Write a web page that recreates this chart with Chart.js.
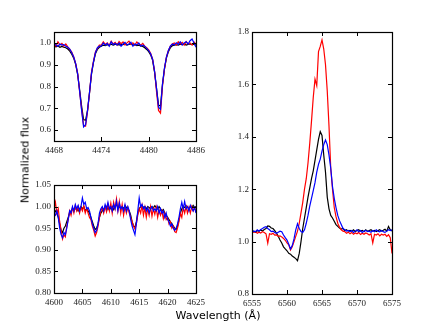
<!DOCTYPE html>
<html>
<head>
<meta charset="utf-8">
<script src="https://cdn.jsdelivr.net/npm/chart.js@4/dist/chart.umd.min.js"></script>
<style>
  html, body { margin: 0; padding: 0; background: #fff; }
  #wrap { position: relative; width: 436px; height: 327px; overflow: hidden; }
  canvas { position: absolute; left: 0; top: 0; }
  .lab { position: absolute; font-family: "DejaVu Sans", sans-serif; font-size: 11px; color: #000; white-space: nowrap; }
  #ylab { left: 25px; top: 160px; transform: translate(-50%, -50%) rotate(-90deg); }
  #xlab { left: 218px; top: 315px; transform: translate(-50%, -50%); }
</style>
</head>
<body>
<div id="wrap">
  <canvas id="cA" width="436" height="327"></canvas>
  <canvas id="cB" width="436" height="327"></canvas>
  <canvas id="cC" width="436" height="327"></canvas>
  <div class="lab" id="ylab">Normalized flux</div>
  <div class="lab" id="xlab">Wavelength (Å)</div>
</div>
<script>
// ---------- Panel A: 4468-4486 Å ----------
const wlA = [4468,4468.25,4468.5,4468.75,4469,4469.25,4469.5,4469.75,4470,4470.25,4470.5,4470.75,4471,4471.25,4471.5,4471.75,4472,4472.25,4472.5,4472.75,4473,4473.25,4473.5,4473.75,4474,4474.25,4474.5,4474.75,4475,4475.25,4475.5,4475.75,4476,4476.25,4476.5,4476.75,4477,4477.25,4477.5,4477.75,4478,4478.25,4478.5,4478.75,4479,4479.25,4479.5,4479.75,4480,4480.25,4480.5,4480.75,4481,4481.25,4481.5,4481.75,4482,4482.25,4482.5,4482.75,4483,4483.25,4483.5,4483.75,4484,4484.25,4484.5,4484.75,4485,4485.25,4485.5,4485.75,4486];
const blackA = [0.985,0.982,0.986,0.980,0.984,0.980,0.978,0.972,
  0.962,0.948,0.93,0.9,0.855,0.785,0.71,0.648,0.645,0.69,0.77,0.855,0.91,0.95,0.97,0.98,
  0.985,0.99,0.988,0.992,0.99,0.994,0.99,0.993,0.995,0.99,0.994,0.992,0.996,0.99,0.993,0.995,0.99,0.992,0.988,0.99,0.986,0.984,
  0.978,0.97,0.96,0.945,0.92,0.865,0.79,0.715,0.71,0.81,0.88,0.93,0.96,0.978,0.987,
  0.99,0.992,0.99,0.994,0.992,0.995,0.99,0.993,0.995,0.992,0.994,0.99];
const redA = [1.0,0.985,1.005,0.99,0.998,0.985,0.995,0.982,
  0.97,0.958,0.935,0.905,0.86,0.775,0.695,0.622,0.618,0.685,0.77,0.865,0.915,0.958,0.975,0.99,
  0.99,1.005,0.993,1.0,0.988,1.008,0.995,1.002,0.99,1.006,0.996,1.004,0.99,1.0,1.008,0.993,1.0,0.99,1.004,0.995,0.99,0.998,
  0.985,0.978,0.968,0.952,0.925,0.87,0.775,0.69,0.678,0.80,0.88,0.935,0.965,0.985,0.995,
  1.0,0.99,1.005,0.995,1.002,0.99,1.006,0.995,1.0,0.99,1.004,0.995];
const blueA = [0.995,0.99,0.985,0.995,0.99,0.992,0.985,0.98,
  0.972,0.955,0.935,0.905,0.858,0.778,0.69,0.615,0.625,0.69,0.772,0.86,0.912,0.955,0.978,0.985,
  0.985,1.0,0.99,0.998,0.985,1.005,0.992,0.998,0.99,1.0,0.985,0.995,1.002,0.99,0.995,1.003,0.985,0.995,0.99,1.0,0.985,0.99,
  0.985,0.975,0.965,0.95,0.925,0.87,0.79,0.705,0.695,0.81,0.885,0.935,0.965,0.985,0.995,
  0.99,1.0,0.993,1.005,0.99,1.0,1.005,0.995,1.01,1.018,1.0,0.98];
const xTicksA = [4468,4474,4480,4486];
const yTicksA = [0.6,0.7,0.8,0.9,1.0];

// ---------- Panel B: 4600-4625 Å ----------
const wlB = [4600,4600.25,4600.5,4600.75,4601,4601.25,4601.5,4601.75,4602,4602.25,4602.5,4602.75,4603,4603.25,4603.5,4603.75,4604,4604.25,4604.5,4604.75,4605,4605.25,4605.5,4605.75,4606,4606.25,4606.5,4606.75,4607,4607.25,4607.5,4607.75,4608,4608.25,4608.5,4608.75,4609,4609.25,4609.5,4609.75,4610,4610.25,4610.5,4610.75,4611,4611.25,4611.5,4611.75,4612,4612.25,4612.5,4612.75,4613,4613.25,4613.5,4613.75,4614,4614.25,4614.5,4614.75,4615,4615.25,4615.5,4615.75,4616,4616.25,4616.5,4616.75,4617,4617.25,4617.5,4617.75,4618,4618.25,4618.5,4618.75,4619,4619.25,4619.5,4619.75,4620,4620.25,4620.5,4620.75,4621,4621.25,4621.5,4621.75,4622,4622.25,4622.5,4622.75,4623,4623.25,4623.5,4623.75,4624,4624.25,4624.5,4624.75,4625];
const blackB = [0.985,0.99,0.985,0.975, 0.96,0.945,0.94,0.95, 0.955,0.965,0.975,0.985, 0.99,0.995,0.99,0.995,
  0.997,0.99,0.995,1.0, 0.995,1.0,0.99,0.995, 0.99,0.985,0.975,0.965, 0.955,0.947,0.95,0.96,
  0.975,0.985,0.99,0.995, 0.995,1.0,0.993,0.998, 0.995,1.0,0.993,1.0, 1.005,0.998,1.0,0.995,
  1.0,0.995,1.002,0.998, 0.995,0.99,0.98,0.965, 0.955,0.952,0.965,0.985, 0.995,1.0,1.003,0.998,
  1.0,0.995,1.0,0.998, 0.995,1.0,0.997,1.002, 0.998,0.995,1.0,0.995, 0.99,0.993,0.985,0.98,
  0.975,0.97,0.965,0.96, 0.955,0.95,0.947,0.955, 0.97,0.985,0.995,1.0, 0.998,1.002,1.0,0.995,
  1.0,0.998,1.003,0.998, 1.0];
const redB = [0.995,1.01,0.985,0.995, 0.965,0.945,0.925,0.935, 0.93,0.955,0.97,0.99, 0.98,0.998,0.985,1.002,
  0.99,1.0,0.985,0.998, 0.99,1.002,0.985,0.996, 0.985,0.975,0.97,0.955, 0.945,0.932,0.94,0.955,
  0.975,0.99,0.998,0.985, 1.0,0.988,1.005,0.99, 1.008,0.985,1.01,0.995, 1.018,0.99,1.012,0.985,
  1.005,0.98,1.0,0.985, 0.998,0.985,0.975,0.965, 0.955,0.948,0.96,0.98, 0.995,0.985,1.003,0.98,
  0.998,0.975,0.995,0.98, 1.0,0.978,0.995,0.982, 0.998,0.975,0.992,0.98, 0.99,0.972,0.985,0.97,
  0.975,0.96,0.965,0.95, 0.955,0.942,0.94,0.95, 0.965,0.985,0.975,0.998, 0.985,1.0,0.985,0.998,
  0.985,1.0,0.99,0.998, 0.99];
const blueB = [0.985,0.98,0.99,0.975, 0.95,0.935,0.928,0.94, 0.935,0.95,0.97,0.99, 0.985,1.0,0.99,1.005,
  0.995,1.003,0.99,1.0, 1.02,1.005,1.01,0.995, 0.998,0.99,0.975,0.96, 0.95,0.94,0.945,0.96,
  0.985,0.995,1.0,0.99, 1.005,0.995,1.01,0.995, 1.0,0.99,1.005,0.995, 1.012,0.99,1.008,0.995,
  1.0,0.99,1.005,0.99, 1.0,0.99,0.97,0.955, 0.945,0.935,0.96,0.99, 1.02,1.0,1.005,0.995,
  1.0,0.99,0.998,0.985, 0.995,1.0,0.99,0.995, 0.99,1.0,0.985,0.995, 0.985,0.99,0.975,0.985,
  0.97,0.965,0.955,0.96, 0.95,0.945,0.95,0.96, 0.975,0.995,1.01,0.995, 1.012,0.995,1.0,0.99,
  1.003,0.995,0.99,0.998, 0.985];
const xTicksB = [4600,4605,4610,4615,4620,4625];
const yTicksB = [0.80,0.85,0.90,0.95,1.00,1.05];

// ---------- Panel C: 6555-6575 Å ----------
const wlC = [6555,6555.25,6555.5,6555.75,6556,6556.25,6556.5,6556.75,6557,6557.25,6557.5,6557.75,6558,6558.25,6558.5,6558.75,6559,6559.25,6559.5,6559.75,6560,6560.25,6560.5,6560.75,6561,6561.25,6561.5,6561.75,6562,6562.25,6562.5,6562.75,6563,6563.25,6563.5,6563.75,6564,6564.25,6564.5,6564.75,6565,6565.25,6565.5,6565.75,6566,6566.25,6566.5,6566.75,6567,6567.25,6567.5,6567.75,6568,6568.25,6568.5,6568.75,6569,6569.25,6569.5,6569.75,6570,6570.25,6570.5,6570.75,6571,6571.25,6571.5,6571.75,6572,6572.25,6572.5,6572.75,6573,6573.25,6573.5,6573.75,6574,6574.25,6574.5,6574.75,6575];
const blackC = [1.038,1.04,1.036,1.042, 1.04,1.044,1.04,1.046, 1.05,1.06,1.058,1.052, 1.05,1.042,1.032,1.02,
  1.006,0.995,0.98,0.972, 0.965,0.955,0.952,0.945, 0.94,0.935,0.927,0.955, 1.0,1.05,1.09,1.13,
  1.17,1.205,1.24,1.27, 1.31,1.35,1.39,1.42, 1.405,1.33,1.265,1.17, 1.125,1.10,1.09,1.078,
  1.065,1.058,1.052,1.048, 1.05,1.042,1.045,1.04, 1.043,1.04,1.045,1.038, 1.042,1.045,1.04,1.043,
  1.038,1.045,1.04,1.042, 1.045,1.04,1.043,1.038, 1.042,1.045,1.04,1.043, 1.047,1.04,1.058,1.045, 1.04];
const redC = [1.04,1.035,1.038,1.032, 1.036,1.033,1.038,1.035, 1.03,0.994,1.03,1.028, 1.032,1.025,1.026,1.02,
  1.022,1.018,1.012,1.005, 0.995,0.988,0.968,0.98, 1.0,1.02,1.04,1.07, 1.11,1.15,1.2,1.24,
  1.30,1.375,1.46,1.55, 1.62,1.595,1.725,1.745, 1.77,1.735,1.675,1.575, 1.44,1.28,1.2,1.13,
  1.095,1.07,1.055,1.045, 1.04,1.038,1.032,1.036, 1.03,1.035,1.028,1.033, 1.03,1.035,1.027,1.032,
  1.028,1.033,1.03,1.025, 1.03,0.995,1.028,1.025, 1.03,1.022,1.028,1.025, 1.028,1.02,1.026,1.015, 0.955];
const blueC = [1.035,1.04,1.038,1.045, 1.04,1.046,1.05,1.055, 1.057,1.05,1.045,1.038, 1.04,1.035,1.032,1.036,
  1.04,1.038,1.025,1.015, 1.006,0.99,0.972,0.985, 1.01,1.045,1.068,1.05, 1.038,1.035,1.045,1.07,
  1.1,1.135,1.165,1.195, 1.225,1.265,1.295,1.315, 1.345,1.37,1.388,1.37, 1.33,1.28,1.21,1.165,
  1.13,1.1,1.08,1.065, 1.05,1.045,1.04,1.043, 1.038,1.042,1.035,1.04, 1.045,1.038,1.042,1.035,
  1.04,1.043,1.038,1.04, 1.036,1.042,1.038,1.045, 1.04,1.037,1.042,1.038, 1.035,1.04,1.045,1.042, 1.045];
const xTicksC = [6555,6560,6565,6570,6575];
const yTicksC = [0.8,1.0,1.2,1.4,1.6,1.8];

const tickFont = { family: '"Liberation Serif", "DejaVu Serif", serif', size: 9 };

const frameTicks = {
  id: 'frameTicks',
  afterDraw(chart) {
    const { ctx, chartArea: a, scales: { x, y } } = chart;
    const L = 4;
    ctx.save();
    ctx.strokeStyle = '#000';
    ctx.lineWidth = 1;
    ctx.beginPath();
    x.ticks.forEach(t => {
      const px = Math.round(x.getPixelForValue(t.value)) + 0.5;
      ctx.moveTo(px, a.bottom); ctx.lineTo(px, a.bottom - L);
      ctx.moveTo(px, a.top); ctx.lineTo(px, a.top + L);
    });
    y.ticks.forEach(t => {
      const py = Math.round(y.getPixelForValue(t.value)) + 0.5;
      ctx.moveTo(a.left, py); ctx.lineTo(a.left + L, py);
      ctx.moveTo(a.right, py); ctx.lineTo(a.right - L, py);
    });
    ctx.stroke();
    ctx.lineWidth = 1.2;
    ctx.strokeRect(Math.round(a.left) + 0.5, Math.round(a.top) + 0.5,
                   Math.round(a.right - a.left), Math.round(a.bottom - a.top));
    ctx.restore();
  }
};

function ds(wl, vals, color, order) {
  return {
    data: wl.map((w, i) => ({ x: w, y: vals[i] })),
    borderColor: color, borderWidth: 1.2, pointRadius: 0, tension: 0,
    fill: false, order: order
  };
}

function makeChart(id, wl, blk, red, blu, xMin, xMax, yMin, yMax, xt, yt, dec, pad) {
  new Chart(document.getElementById(id), {
    type: 'line',
    data: { datasets: [ ds(wl, blu, '#0000ff', 0), ds(wl, red, '#ff0000', 1), ds(wl, blk, '#000000', 2) ] },
    options: {
      responsive: false, animation: false, events: [],
      layout: { padding: pad },
      plugins: { legend: { display: false }, tooltip: { enabled: false } },
      scales: {
        x: {
          type: 'linear', min: xMin, max: xMax,
          afterBuildTicks: s => { s.ticks = xt.map(v => ({ value: v })); },
          afterFit: s => { s.height = 20; },
          grid: { display: false, drawTicks: false }, border: { display: false },
          ticks: { font: tickFont, color: '#222', padding: 4, maxRotation: 0, autoSkip: false,
                   callback: v => String(v) }
        },
        y: {
          type: 'linear', min: yMin, max: yMax,
          afterBuildTicks: s => { s.ticks = yt.map(v => ({ value: v })); },
          afterFit: s => { s.width = 40; },
          grid: { display: false, drawTicks: false }, border: { display: false },
          ticks: { font: tickFont, color: '#222', padding: 3, autoSkip: false,
                   callback: v => Number(v).toFixed(dec) }
        }
      }
    },
    plugins: [frameTicks]
  });
}

makeChart('cA', wlA, blackA, redA, blueA, 4468, 4486, 0.55, 1.05, xTicksA, yTicksA, 1,
  { left: 14, top: 32, right: 240, bottom: 166 });
makeChart('cB', wlB, blackB, redB, blueB, 4600, 4625, 0.80, 1.05, xTicksB, yTicksB, 2,
  { left: 14, top: 185, right: 240, bottom: 14 });
makeChart('cC', wlC, blackC, redC, blueC, 6555, 6575, 0.8, 1.8, xTicksC, yTicksC, 1,
  { left: 212, top: 32, right: 44, bottom: 13 });
</script>
</body>
</html>
